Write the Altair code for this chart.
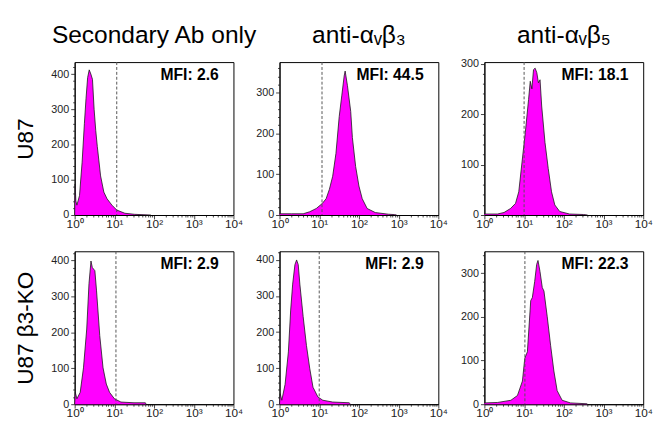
import math
import altair as alt
import pandas as pd

col_titles = ["Secondary Ab only", "anti-\u03b1\u1d65\u03b2\u2083", "anti-\u03b1\u1d65\u03b2\u2085"]
row_titles = ["U87", "U87 \u03b23-KO"]
mfi_labels = ["MFI: 2.6", "MFI: 44.5", "MFI: 18.1", "MFI: 2.9", "MFI: 2.9", "MFI: 22.3"]
gate_log = [1.06, 1.07, 1.0, 1.04, 1.0, 1.02]
y_max = [434, 375, 303, 425, 424, 350]

# histogram outlines: x in log10(fluorescence), y = cell count
u87_sec_x = [0.0, 0.012, 0.03, 0.057, 0.122, 0.188, 0.245, 0.286, 0.327, 0.367, 0.408, 0.449,
             0.490, 0.531, 0.571, 0.653, 0.735, 0.816, 0.939, 1.061, 1.265, 1.51, 1.92]
u87_sec_y = [0, 88, 40, 28, 55, 150, 259, 330, 390, 412, 400, 385,
             300, 240, 194, 111, 65, 46, 28, 14, 5, 2, 0]

u87_b3_x = [0.0, 0.3, 0.595, 0.76, 0.926, 1.074, 1.174, 1.256, 1.339, 1.421, 1.504, 1.570,
            1.628, 1.653, 1.711, 1.793, 1.835, 1.917, 2.0, 2.083, 2.207, 2.413, 2.744, 2.9, 2.95]
u87_b3_y = [3, 3, 3, 8, 16, 28, 40, 63, 95, 151, 242, 294,
            341, 353, 317, 254, 190, 119, 71, 40, 16, 6, 2, 1, 0]

u87_b5_x = [0.0, 0.33, 0.495, 0.66, 0.784, 0.866, 0.948, 1.031, 1.113, 1.155, 1.196, 1.237,
            1.278, 1.32, 1.361, 1.402, 1.443, 1.526, 1.608, 1.691, 1.773, 1.897, 2.144, 2.5, 2.6]
u87_b5_y = [2, 2, 5, 13, 23, 46, 105, 164, 229, 265, 250, 288,
            291, 282, 262, 268, 216, 144, 92, 46, 20, 7, 2, 1, 0]

ko_sec_x = [0.0, 0.016, 0.057, 0.14, 0.222, 0.304, 0.361, 0.411, 0.444, 0.509, 0.55, 0.632,
            0.715, 0.797, 0.879, 1.002, 1.166, 1.495, 1.782, 1.80]
ko_sec_y = [0, 33, 15, 33, 101, 209, 335, 398, 380, 371, 317, 191,
            101, 56, 33, 15, 6, 4, 4, 0]

ko_b3_x = [0.0, 0.017, 0.058, 0.14, 0.223, 0.281, 0.331, 0.388, 0.43, 0.471, 0.512, 0.595,
           0.678, 0.76, 0.843, 0.967, 1.091, 1.339, 1.752, 1.79]
ko_b3_y = [0, 29, 11, 55, 145, 261, 333, 387, 400, 387, 333, 243,
           163, 100, 47, 20, 11, 6, 4, 0]

ko_b5_x = [0.0, 0.333, 0.667, 0.833, 0.958, 1.017, 1.083, 1.167, 1.208, 1.267, 1.317, 1.35,
           1.4, 1.458, 1.5, 1.583, 1.667, 1.75, 1.833, 1.958, 2.167, 2.583, 2.6]
ko_b5_y = [3, 4, 9, 20, 53, 105, 120, 237, 244, 281, 320, 329,
           304, 267, 259, 200, 135, 76, 31, 9, 3, 1, 0]

series_x = [u87_sec_x, u87_b3_x, u87_b5_x, ko_sec_x, ko_b3_x, ko_b5_x]
series_y = [u87_sec_y, u87_b3_y, u87_b5_y, ko_sec_y, ko_b3_y, ko_b5_y]

W, H = 162, 156
FONT = "Liberation Sans, Arial, sans-serif"
TITLE_FONT = "'Liberation Sans Narrow', 'Liberation Sans', Arial, sans-serif"

x_ticks = [round(math.log10(k * 10 ** d), 4) for d in range(4) for k in range(1, 10)] + [4.0]
x_major = "abs(datum.value - round(datum.value)) < 0.001"
sup = "['\u2070','\u00b9','\u00b2','\u00b3','\u2074']"


def make_x_axis():
    return alt.Axis(
        values=x_ticks,
        labelExpr=f"{x_major} ? '10' + {sup}[round(datum.value)] : ''",
        tickSize={"condition": {"test": x_major, "value": 4}, "value": 2},
        title=None, grid=False, labelFlush=False, labelOverlap=False, labelBound=False,
        labelFontSize=12, labelFont=FONT, labelColor="#222", tickColor="#444",
        domainColor="#000", labelPadding=0,
    )


def make_y_axis(i):
    y_major = "datum.value % 100 == 0"
    kw = dict(
        values=list(range(0, y_max[i] + 1, 20)),
        labelExpr=f"{y_major} ? datum.label : ''",
        tickSize={"condition": {"test": y_major, "value": 4}, "value": 2},
        grid=False, labelOverlap=False, labelFlush=False,
        labelFontSize=11, labelFont=FONT, labelColor="#222", tickColor="#444",
        domainColor="#000", labelPadding=2,
    )
    if i % 3 == 0:
        kw.update(title=row_titles[i // 3], titleFontSize=23, titleFont=TITLE_FONT,
                  titleFontWeight="normal", titleColor="#000", titlePadding=14)
    else:
        kw.update(title=None)
    return alt.Axis(**kw)


title_dy = [0, 0, 4]

panels = []
for i in range(6):
    x_scale = alt.Scale(domain=[0, 4], nice=False, zero=False)
    df = pd.DataFrame({"x": series_x[i], "y": series_y[i]})
    area = alt.Chart(df).mark_area(
        color="#ff00ff", opacity=1, interpolate="linear",
        line={"color": "#1a1a1a", "strokeWidth": 0.8},
    ).encode(
        x=alt.X("x:Q", scale=x_scale, axis=make_x_axis()),
        y=alt.Y("y:Q", scale=alt.Scale(domain=[0, y_max[i]], nice=False), axis=make_y_axis(i)),
    )
    rule = alt.Chart(pd.DataFrame({"x": [gate_log[i]]})).mark_rule(
        strokeDash=[3, 2], color="#555", strokeWidth=1
    ).encode(x=alt.X("x:Q", scale=x_scale, axis=make_x_axis()))
    txt = alt.Chart(pd.DataFrame({"t": [mfi_labels[i]]})).mark_text(
        align="right", baseline="top", fontWeight="bold", fontSize=16, font=FONT, color="#000"
    ).encode(text="t:N", x=alt.value(W - 15), y=alt.value(5))
    p = alt.layer(area, rule, txt).properties(width=W, height=H)
    if i < 3:
        p = p.properties(title=alt.TitleParams(col_titles[i], fontSize=25, font=TITLE_FONT,
                                               fontWeight="normal", color="#000", offset=14,
                                               dy=title_dy[i]))
    panels.append(p)

chart = alt.concat(*panels, columns=3, spacing={"row": 37, "column": 47}, bounds="flush").properties(
    padding={"left": 6, "top": 10, "right": 0, "bottom": 0}
).configure_view(stroke="#000", strokeWidth=1)

chart.save("out.html", embed_options={"renderer": "svg", "actions": False})
